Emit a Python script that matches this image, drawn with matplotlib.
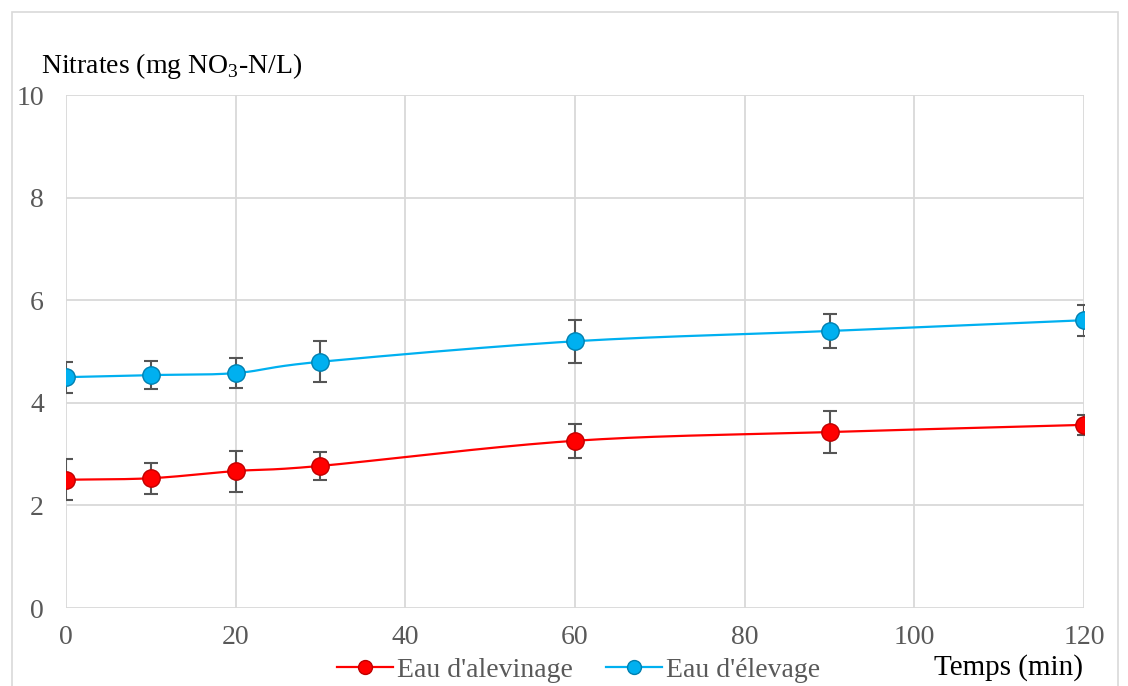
import numpy as np
import matplotlib.pyplot as plt
from matplotlib.patches import Rectangle

temps = [0, 10, 20, 30, 60, 90, 120]
alevinage = [2.50, 2.53, 2.67, 2.77, 3.26, 3.43, 3.57]
alevinage_err = [0.40, 0.30, 0.40, 0.28, 0.33, 0.41, 0.20]
elevage = [4.50, 4.54, 4.58, 4.80, 5.20, 5.40, 5.61]
elevage_err = [0.30, 0.28, 0.29, 0.40, 0.42, 0.33, 0.30]

plt.rcParams['font.family'] = ['Liberation Serif', 'DejaVu Serif']
plt.rcParams['mathtext.fontset'] = 'custom'
plt.rcParams['mathtext.rm'] = 'Liberation Serif'


def smooth(x, y, n=30):
    # Catmull-Rom curve through the points, like a smoothed line in a spreadsheet
    x = np.asarray(x, float)
    y = np.asarray(y, float)
    px = np.concatenate([[2 * x[0] - x[1]], x, [2 * x[-1] - x[-2]]])
    py = np.concatenate([[2 * y[0] - y[1]], y, [2 * y[-1] - y[-2]]])
    xs, ys = [], []
    t = np.linspace(0, 1, n)
    for i in range(1, len(px) - 2):
        for p, out in ((px, xs), (py, ys)):
            p0, p1, p2, p3 = p[i - 1], p[i], p[i + 1], p[i + 2]
            out.extend(0.5 * ((2 * p1) + (-p0 + p2) * t
                              + (2 * p0 - 5 * p1 + 4 * p2 - p3) * t ** 2
                              + (-p0 + 3 * p1 - 3 * p2 + p3) * t ** 3))
    return xs, ys


fig = plt.figure(figsize=(11.28, 6.86), dpi=100)
fig.patches.append(Rectangle((0.011, -0.01), 0.98, 0.993, transform=fig.transFigure,
                             fill=False, edgecolor='#d9d9d9', linewidth=1.2))
ax = fig.add_axes([0.0585, 0.1137, 0.9025, 0.7478])

series = [
    (alevinage, alevinage_err, '#ff0000', '#c00000', "Eau d'alevinage"),
    (elevage, elevage_err, '#00b0f0', '#0080b0', "Eau d'élevage"),
]
handles = []
for vals, err, col, edge, lab in series:
    ax.errorbar(temps, vals, yerr=err, fmt='none', ecolor='#555555',
                elinewidth=1.5, capsize=5, capthick=1.5, zorder=3)
    sx, sy = smooth(temps, vals)
    ax.plot(sx, sy, color=col, lw=1.6, zorder=4)
    ax.plot(temps, vals, 'o', ms=12.5, mfc=col, mec=edge, mew=1, zorder=5)
    h, = ax.plot([], [], '-o', color=col, lw=1.6, ms=10, mfc=col, mec=edge, label=lab)
    handles.append(h)

ax.set_xlim(0, 120)
ax.set_ylim(0, 10)
ax.set_xticks([0, 20, 40, 60, 80, 100, 120])
ax.set_yticks([0, 2, 4, 6, 8, 10])
ax.grid(True, color='#d9d9d9', lw=1.3)
ax.set_axisbelow(True)
for s in ax.spines.values():
    s.set_visible(False)
ax.tick_params(length=0, labelsize=20, labelcolor='#595959')
ax.tick_params(axis='y', pad=16)
ax.tick_params(axis='x', pad=12)

fig.text(0.036, 0.894, r'Nitrates (mg NO$_{\mathrm{3}}$-N/L)', fontsize=20, color='black',
         va='baseline')
fig.text(0.96, 0.016, 'Temps (min)', fontsize=21, color='black', ha='right')
fig.legend(handles=handles, loc='lower center', ncol=2, frameon=False,
           bbox_to_anchor=(0.513, -0.032), fontsize=20, handlelength=2.0,
           handletextpad=0.15, columnspacing=1.2, labelcolor='#595959')

fig.savefig('out.png', dpi=100)
